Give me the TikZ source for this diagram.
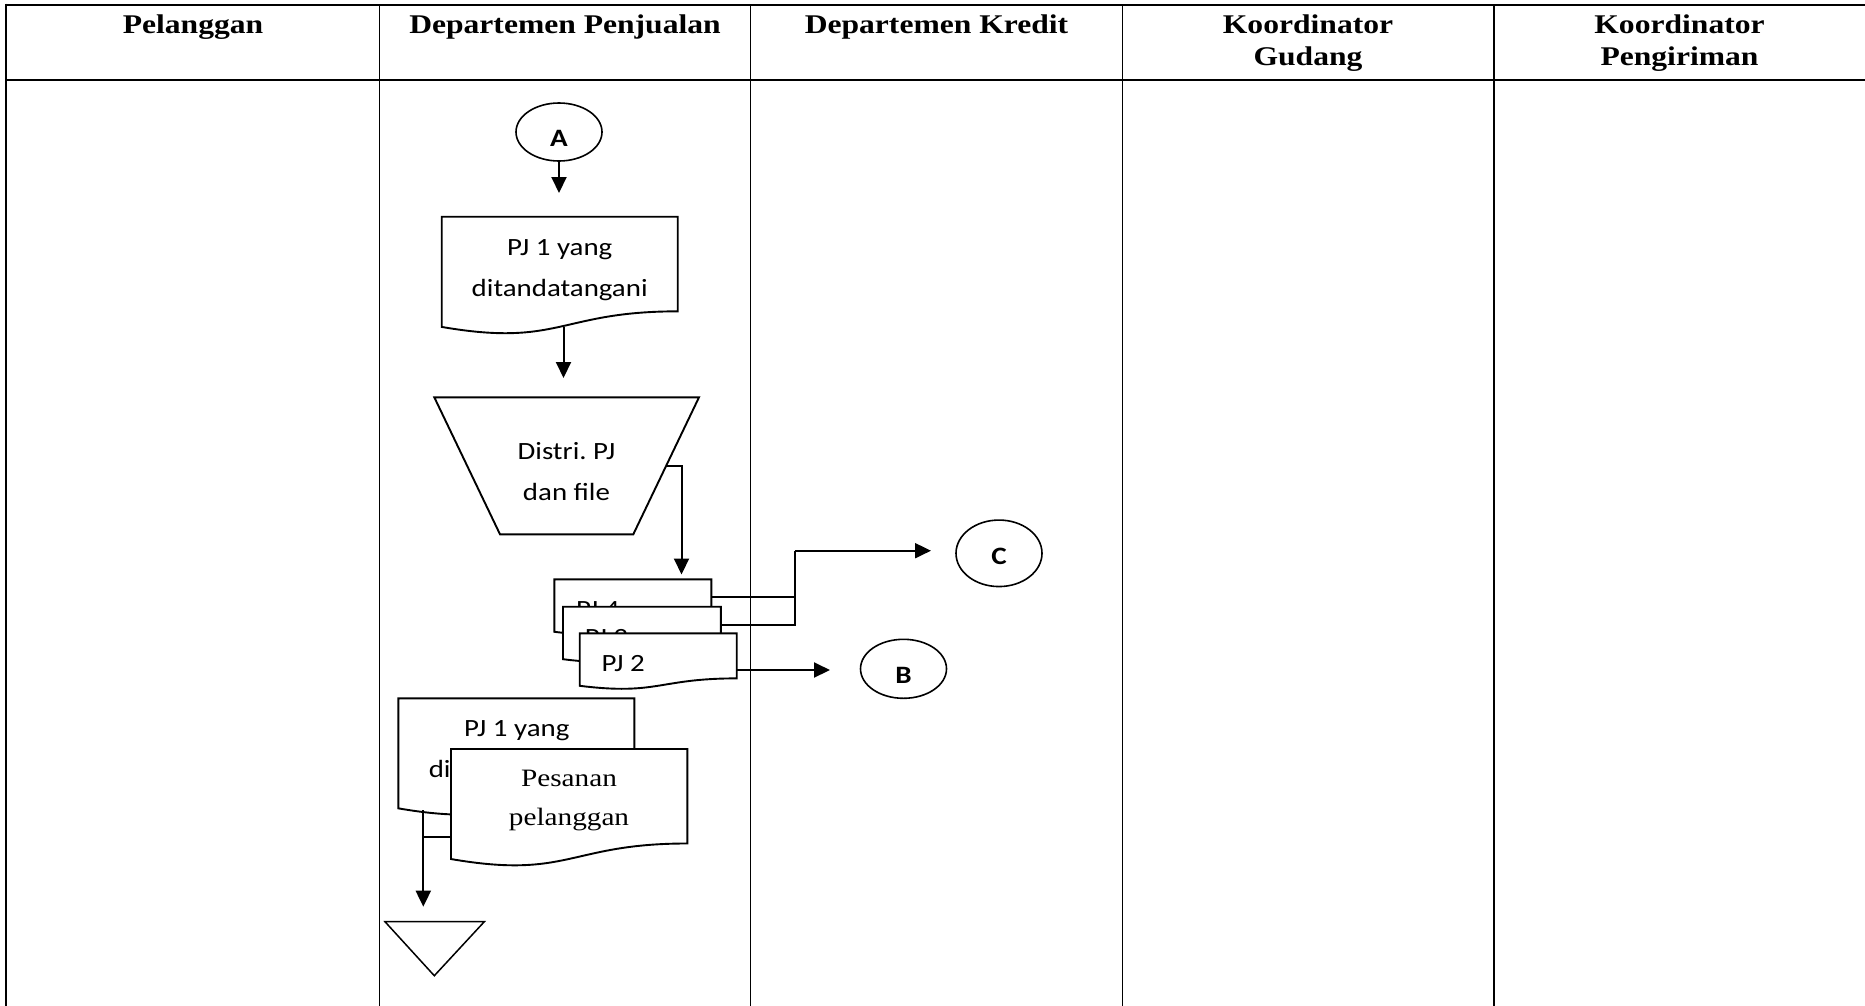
\documentclass[tikz,border=0pt]{standalone}
\usepackage{fontspec}
\setmainfont{Liberation Serif}[FakeStretch=1.17]
\newfontfamily\calib{Carlito}[FakeStretch=1.165]
\usetikzlibrary{arrows.meta,shapes.geometric,calc}
\frenchspacing

% document symbol: top-left x, top-left y, width, height
\newcommand\docpath[4]{%
  \filldraw[shapeline] (#1,#2) -- ++(#3,0) -- ++(0,{0.802*#4})
    .. controls +({-0.5*#3},0) and +({0.5*#3},{0.1735*#4}) .. ++({-#3},{0.132*#4}) -- cycle;}

\begin{document}
\begin{tikzpicture}[x=1pt,y=-1pt,
  grid/.style={line width=2pt},
  lane/.style={line width=1.5pt},
  shapeline/.style={draw=black,fill=white,line width=1.9pt},
  flow/.style={line width=2pt,-{Triangle[length=16pt,width=15pt]}},
  link/.style={line width=2pt},
  head/.style={font=\fontsize{27}{31.7}\selectfont\bfseries,align=center,inner sep=0pt,anchor=base},
  lbl/.style={font=\calib\fontsize{24.8}{40.5}\selectfont,align=center,inner sep=0pt,anchor=base},
  serlbl/.style={font=\fontsize{25}{38.3}\selectfont,align=center,inner sep=0pt,anchor=base},
  conn/.style={ellipse,draw,line width=1.6pt,minimum width=86pt,minimum height=58pt,inner sep=0pt,
    font=\calib\bfseries\fontsize{25}{28}\selectfont,text depth=0pt}
]
\useasboundingbox (0,0) rectangle (1865,1005);

% swimlane table
\draw[grid] (6,4.7) -- (1866,4.7);
\draw[grid] (6,80.3) -- (1866,80.3);
\draw[grid] (6,3.7) -- (6,1006);
\foreach \x in {379.7,750.3,1122.7,1494} \draw[lane] (\x,4.7) -- (\x,1006);

% lane titles (multi-line titles are placed by their last baseline)
\node[head] (h1) at (193,33) {Pelanggan};
\node[head] (h2) at (565,33) {Departemen Penjualan};
\node[head] (h3) at (936.5,33) {Departemen Kredit};
\node[head] (h4) at (1308,65) {Koordinator\\Gudang};
\node[head] (h5) at (1679.5,65) {Koordinator\\Pengiriman};

% off-page connectors
\node[conn,text height=28pt] (A) at (559,132) {A};
\node[conn,text height=28.4pt,minimum height=59pt] (B) at (903.5,668.8) {B};
\node[conn,text height=21.4pt,minimum height=66.5pt] (C) at (999,553.3) {C};

% signed sales order
\docpath{441.7}{216.7}{236}{118}
\node[lbl] (d1) at (559.7,296.2) {PJ 1 yang\\ditandatangani};
\coordinate (d1in) at (559,193);
\draw[flow] (A) -- (d1in);

% distribution step
\coordinate (tznw) at (434.3,397.3);
\coordinate (tzne) at (699,397.3);
\coordinate (tzse) at (633.3,534.3);
\coordinate (tzsw) at (500,534.3);
\filldraw[shapeline] (tznw) -- (tzne) -- (tzse) -- (tzsw) -- cycle;
\begin{scope}
  \clip (420,397) rectangle (720,500.7);
  \node[lbl] (tz) at (566.5,500) {Distri. PJ\\dan file};
\end{scope}
\coordinate (d1out) at (563.5,327);
\coordinate (tzin) at (563.5,378);
\draw[flow] (d1out) -- (tzin);

% copies PJ 4, PJ 3, PJ 2
\coordinate (tzout) at ($(tzne)!0.5!(tzse)$);
\coordinate (pj4in) at (681.5,574.5);
\draw[flow] (tzout) -| (pj4in);

\docpath{554.4}{579.3}{157}{56.2}
\node[lbl,anchor=base west] (pj4) at (576,617.7) {PJ 4};
\docpath{563}{606.7}{157.8}{56.2}
\node[lbl,anchor=base west] (pj3) at (584.6,645.1) {PJ 3};
\docpath{579.7}{633.3}{157}{56.2}
\node[lbl,anchor=base west] (pj2) at (601.3,671.7) {PJ 2};

\coordinate (pj4o) at (711.4,596.7);
\coordinate (pj3o) at (720.8,625);
\coordinate (j1) at (795,596.7);
\coordinate (j2) at (795,625);
\coordinate (j3) at (795,550.7);
\coordinate (cin) at (931,550.7);
\draw[link] (pj4o) -- (j1);
\draw[link] (pj3o) -- (j2) -- (j3);
\draw[flow] (j3) -- (cin);

\coordinate (pj2o) at (736.7,670);
\coordinate (bin) at (830,670);
\draw[flow] (pj2o) -- (bin);

% signed order filed with customer order
\docpath{398.3}{698.3}{236}{117.8}
\node[lbl] (p1) at (516.8,777.2) {PJ 1 yang\\ditandatangani};
\coordinate (p1o) at (423.3,810);
\coordinate (trin) at (423.3,906.7);
\draw[flow] (p1o) -- (trin);

\docpath{451}{749}{236.3}{117.8}
\node[serlbl] (ps) at (569,825) {Pesanan\\pelanggan};
\coordinate (pso) at (451,836.7);
\coordinate (jp) at (423.3,836.7);
\draw[link] (pso) -- (jp);

% file
\coordinate (fa) at (385,921.7);
\coordinate (fb) at (484.3,921.7);
\coordinate (fc) at (434.3,975.7);
\draw[line width=1.5pt] (fa) -- (fb) -- (fc) -- cycle;
\end{tikzpicture}
\end{document}
